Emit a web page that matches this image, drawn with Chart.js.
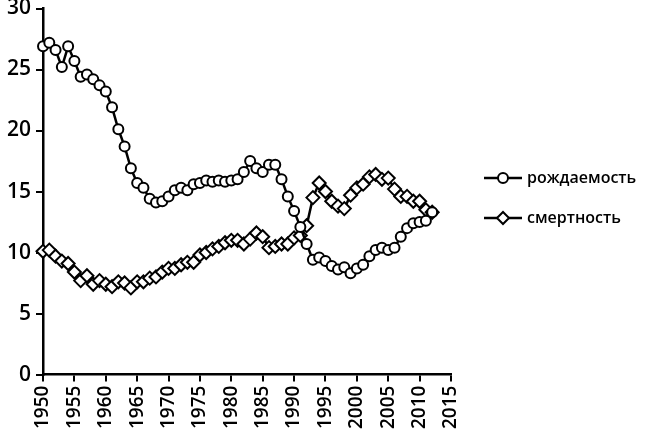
<!DOCTYPE html>
<html>
<head>
<meta charset="utf-8">
<script src="https://cdn.jsdelivr.net/npm/chart.js@4.4.1/dist/chart.umd.min.js"></script>
<style>
html,body{margin:0;padding:0;background:#fff;}
#c{display:block;}
</style>
</head>
<body>
<canvas id="c" width="648" height="441"></canvas>
<script>
const years = [1950,1951,1952,1953,1954,1955,1956,1957,1958,1959,
1960,1961,1962,1963,1964,1965,1966,1967,1968,1969,
1970,1971,1972,1973,1974,1975,1976,1977,1978,1979,
1980,1981,1982,1983,1984,1985,1986,1987,1988,1989,
1990,1991,1992,1993,1994,1995,1996,1997,1998,1999,
2000,2001,2002,2003,2004,2005,2006,2007,2008,2009,
2010,2011,2012];
const birthRate = [26.9,27.2,26.6,25.2,26.9,25.7,24.4,24.6,24.2,23.7,
23.2,21.9,20.1,18.7,16.9,15.7,15.3,14.4,14.1,14.2,
14.6,15.1,15.3,15.1,15.6,15.7,15.9,15.8,15.9,15.8,
15.9,16.0,16.6,17.5,16.9,16.6,17.2,17.2,16.0,14.6,
13.4,12.1,10.7,9.4,9.6,9.3,8.9,8.6,8.8,8.3,
8.7,9.0,9.7,10.2,10.4,10.2,10.4,11.3,12.0,12.4,
12.5,12.6,13.3];
const deathRate = [10.1,10.2,9.7,9.3,9.1,8.4,7.7,8.1,7.4,7.7,
7.4,7.2,7.6,7.5,7.1,7.6,7.6,7.9,8.0,8.4,
8.7,8.7,9.0,9.2,9.2,9.8,10.0,10.3,10.5,10.8,
11.0,11.0,10.7,11.1,11.6,11.3,10.4,10.5,10.7,10.7,
11.2,11.4,12.2,14.5,15.7,15.0,14.2,13.8,13.6,14.7,
15.3,15.6,16.2,16.4,16.0,16.1,15.2,14.6,14.6,14.2,
14.2,13.5,13.3];
const seriesNames = ['рождаемость','смертность'];
const xTicks = [1950,1955,1960,1965,1970,1975,1980,1985,1990,1995,2000,2005,2010,2015];
const yTicks = [0,5,10,15,20,25,30];

const FONT = '"Open Sans", "DejaVu Sans", sans-serif';

const legendPlugin = {
  id: 'customLegend',
  afterDraw(chart) {
    const ctx = chart.ctx;
    const items = [{y:178, style:'circle', r:5}, {y:218, style:'rectRot', r:6}];
    ctx.save();
    chart.data.datasets.forEach((ds, i) => {
      const it = items[i];
      const x0 = 484, x1 = 522, xm = 503;
      ctx.strokeStyle = '#000';
      ctx.lineWidth = 2.5;
      ctx.beginPath(); ctx.moveTo(x0, it.y); ctx.lineTo(x1, it.y); ctx.stroke();
      ctx.fillStyle = '#fff';
      ctx.lineWidth = 2;
      Chart.helpers.drawPoint(ctx, {pointStyle: it.style, radius: it.r, borderWidth: 2}, xm, it.y);
      ctx.fillStyle = '#000';
      ctx.font = '600 16px ' + FONT;
      ctx.textBaseline = 'middle';
      ctx.textAlign = 'left';
      ctx.fillText(ds.label, 527, it.y);
    });
    ctx.restore();
  }
};

function pts(arr) { return years.map((y, i) => ({x: y, y: arr[i]})); }

new Chart(document.getElementById('c'), {
  type: 'line',
  data: {
    datasets: [
      {label: seriesNames[0], data: pts(birthRate), borderColor: '#000', borderWidth: 2.5,
       pointStyle: 'circle', pointRadius: 5, pointBorderWidth: 2, pointBackgroundColor: '#fff',
       pointBorderColor: '#000', tension: 0, clip: false},
      {label: seriesNames[1], data: pts(deathRate), borderColor: '#000', borderWidth: 2.5,
       pointStyle: 'rectRot', pointRadius: 6.5, pointBorderWidth: 2, pointBackgroundColor: '#fff',
       pointBorderColor: '#000', tension: 0, clip: false}
    ]
  },
  options: {
    responsive: false,
    animation: false,
    devicePixelRatio: 1,
    layout: {padding: {left: 2, top: 0, right: 197, bottom: 8}},
    plugins: {legend: {display: false}, tooltip: {enabled: false}},
    scales: {
      x: {
        type: 'linear', min: 1950, max: 2015,
        afterBuildTicks: (s) => { s.ticks = xTicks.map(v => ({value: v})); },
        ticks: {color: '#000', font: {family: FONT, size: 19, weight: '600'}, minRotation: 90, maxRotation: 90, padding: 4,
                callback: (v) => String(v)},
        grid: {display: true, drawOnChartArea: false, drawTicks: true, tickLength: 7, color: '#000', lineWidth: 2},
        border: {display: true, color: '#000', width: 2.5}
      },
      y: {
        min: 0, max: 30,
        afterBuildTicks: (s) => { s.ticks = yTicks.map(v => ({value: v})); },
        afterFit: (s) => { s.paddingTop = 8; },
        ticks: {color: '#000', font: {family: FONT, size: 21, weight: '600'}, padding: 5},
        grid: {display: true, drawOnChartArea: false, drawTicks: true, tickLength: 7, color: '#000', lineWidth: 2},
        border: {display: true, color: '#000', width: 2.5}
      }
    }
  },
  plugins: [legendPlugin]
});
</script>
</body>
</html>
